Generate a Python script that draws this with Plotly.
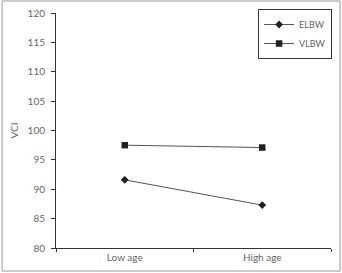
import plotly.graph_objects as go

categories = ["Low age", "High age"]
elbw = [91.6, 87.3]
vlbw = [97.5, 97.1]
y_ticks = [80, 85, 90, 95, 100, 105, 110, 115, 120]

font_family = "Lato, 'Open Sans', sans-serif"
line_col = "#333333"
text_col = "#666666"

fig = go.Figure()
fig.add_trace(go.Scatter(
    x=categories, y=elbw, name="ELBW", mode="lines+markers",
    line=dict(color="#555555", width=1),
    marker=dict(symbol="diamond", size=6, color="#222222"),
))
fig.add_trace(go.Scatter(
    x=categories, y=vlbw, name="VLBW", mode="lines+markers",
    line=dict(color="#555555", width=1),
    marker=dict(symbol="square", size=6.5, color="#222222"),
))

fig.update_layout(
    width=342, height=273,
    margin=dict(l=56, r=11, t=13, b=25, autoexpand=False),
    paper_bgcolor="white", plot_bgcolor="white",
    font=dict(family=font_family, size=10, color=text_col),
    showlegend=True,
    legend=dict(
        x=1.004, y=1.017, xanchor="right", yanchor="top",
        bordercolor="#333333", borderwidth=1, bgcolor="white",
        font=dict(size=9, color=text_col),
        tracegroupgap=0, itemwidth=30,
    ),
    xaxis=dict(
        type="category", range=[-0.5, 1.5], tickson="boundaries",
        ticks="outside", ticklen=3, tickcolor=line_col,
        showline=True, linecolor=line_col, linewidth=1,
        showgrid=False, zeroline=False, automargin=False,
        tickfont=dict(size=10, color=text_col),
    ),
    yaxis=dict(
        range=[80, 120], tickvals=y_ticks,
        ticks="outside", ticklen=4, tickcolor=line_col,
        ticklabelstandoff=4,
        showline=True, linecolor=line_col, linewidth=1,
        showgrid=False, zeroline=False, automargin=False,
        title=dict(text="VCI", font=dict(size=10, color=text_col), standoff=7),
        tickfont=dict(size=10, color=text_col),
    ),
    shapes=[dict(
        type="rect", xref="paper", yref="paper",
        x0=-0.196, x1=1.033, y0=-0.098, y1=1.051,
        line=dict(color="#999999", width=1), fillcolor="rgba(0,0,0,0)",
        layer="below",
    )],
)

fig.write_html("out.html")
